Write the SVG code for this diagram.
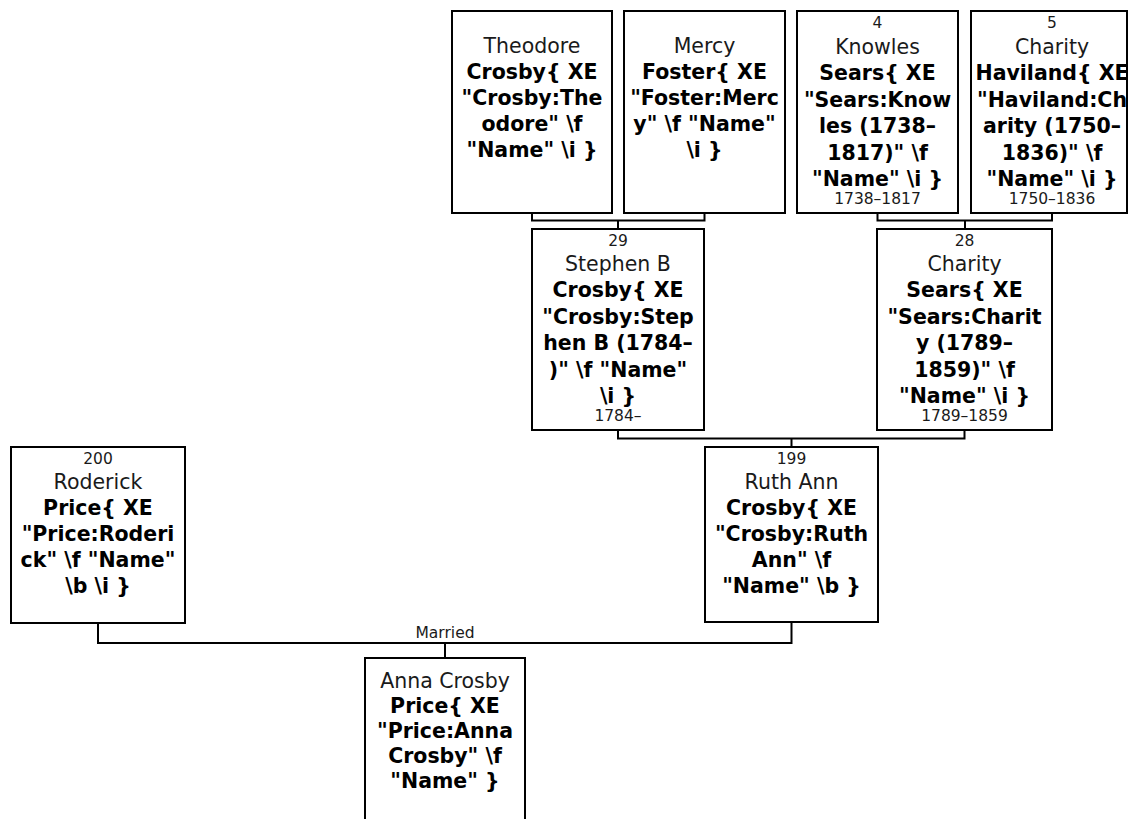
<svg xmlns="http://www.w3.org/2000/svg" width="1129" height="819" viewBox="0 0 1129 819">
<style>
.box{fill:#fff;stroke:#000;stroke-width:2}
.con{fill:none;stroke:#000;stroke-width:2}
text{font-family:"DejaVu Sans",Verdana,sans-serif;text-anchor:middle;fill:#000}
.nm{font-size:20.5px;fill:#1a1a1a}
.b{font-size:20.5px;font-weight:bold}
.s{font-size:15.5px;fill:#1a1a1a}
</style>
<rect width="1129" height="819" fill="#fff"/>
<g id="connectors">
<path class="con" d="M532,213 V220.5 H704.5 V213 M618,220.5 V229"/>
<path class="con" d="M877.5,213 V220.5 H1052 V213 M965,220.5 V229"/>
<path class="con" d="M618,430 V438.5 H964.5 V430 M791.5,438.5 V447"/>
<path class="con" d="M98,623 V643 H791.5 V622 M445,643 V658"/>
<text class="s" x="445" y="638">Married</text>
</g>
<g id="theodore">
<rect class="box" x="452" y="11" width="160" height="202"/>
<text class="nm" x="532" y="53">Theodore</text>
<text class="b" x="532" y="79">Crosby{ XE</text>
<text class="b" x="532" y="105">"Crosby:The</text>
<text class="b" x="532" y="131">odore" \f</text>
<text class="b" x="532" y="157">"Name" \i }</text>
</g>
<g id="mercy">
<rect class="box" x="624" y="11" width="161" height="202"/>
<text class="nm" x="704.5" y="53">Mercy</text>
<text class="b" x="704.5" y="79">Foster{ XE</text>
<text class="b" x="704.5" y="105">"Foster:Merc</text>
<text class="b" x="704.5" y="131">y" \f "Name"</text>
<text class="b" x="704.5" y="157">\i }</text>
</g>
<g id="knowles">
<rect class="box" x="797" y="11" width="161" height="202"/>
<text class="s" x="877.5" y="28">4</text>
<text class="nm" x="877.5" y="54">Knowles</text>
<text class="b" x="877.5" y="80">Sears{ XE</text>
<text class="b" x="877.5" y="107">"Sears:Know</text>
<text class="b" x="877.5" y="133">les (1738–</text>
<text class="b" x="877.5" y="160">1817)" \f</text>
<text class="b" x="877.5" y="186">"Name" \i }</text>
<text class="s" x="877.5" y="204">1738–1817</text>
</g>
<g id="charity5">
<rect class="box" x="971" y="11" width="156" height="202"/>
<text class="s" x="1052" y="28">5</text>
<text class="nm" x="1052" y="54">Charity</text>
<text class="b" x="1052" y="80">Haviland{ XE</text>
<text class="b" x="1052" y="107">"Haviland:Ch</text>
<text class="b" x="1052" y="133">arity (1750–</text>
<text class="b" x="1052" y="160">1836)" \f</text>
<text class="b" x="1052" y="186">"Name" \i }</text>
<text class="s" x="1052" y="204">1750–1836</text>
</g>
<g id="stephen">
<rect class="box" x="532" y="229" width="172" height="201"/>
<text class="s" x="618" y="246">29</text>
<text class="nm" x="618" y="271">Stephen B</text>
<text class="b" x="618" y="297">Crosby{ XE</text>
<text class="b" x="618" y="324">"Crosby:Step</text>
<text class="b" x="618" y="350">hen B (1784–</text>
<text class="b" x="618" y="377">)" \f "Name"</text>
<text class="b" x="618" y="403">\i }</text>
<text class="s" x="618" y="421">1784–</text>
</g>
<g id="charity28">
<rect class="box" x="877" y="229" width="175" height="201"/>
<text class="s" x="964.5" y="246">28</text>
<text class="nm" x="964.5" y="271">Charity</text>
<text class="b" x="964.5" y="297">Sears{ XE</text>
<text class="b" x="964.5" y="324">"Sears:Charit</text>
<text class="b" x="964.5" y="350">y (1789–</text>
<text class="b" x="964.5" y="377">1859)" \f</text>
<text class="b" x="964.5" y="403">"Name" \i }</text>
<text class="s" x="964.5" y="421">1789–1859</text>
</g>
<g id="roderick">
<rect class="box" x="11" y="447" width="174" height="176"/>
<text class="s" x="98" y="464">200</text>
<text class="nm" x="98" y="489">Roderick</text>
<text class="b" x="98" y="515">Price{ XE</text>
<text class="b" x="98" y="541">"Price:Roderi</text>
<text class="b" x="98" y="567">ck" \f "Name"</text>
<text class="b" x="98" y="593">\b \i }</text>
</g>
<g id="ruthann">
<rect class="box" x="705" y="447" width="173" height="175"/>
<text class="s" x="791.5" y="464">199</text>
<text class="nm" x="791.5" y="489">Ruth Ann</text>
<text class="b" x="791.5" y="515">Crosby{ XE</text>
<text class="b" x="791.5" y="541">"Crosby:Ruth</text>
<text class="b" x="791.5" y="567">Ann" \f</text>
<text class="b" x="791.5" y="593">"Name" \b }</text>
</g>
<g id="anna">
<rect class="box" x="365" y="658" width="160" height="200"/>
<text class="nm" x="445" y="688">Anna Crosby</text>
<text class="b" x="445" y="713">Price{ XE</text>
<text class="b" x="445" y="738">"Price:Anna</text>
<text class="b" x="445" y="763">Crosby" \f</text>
<text class="b" x="445" y="788">"Name" }</text>
</g>
</svg>
